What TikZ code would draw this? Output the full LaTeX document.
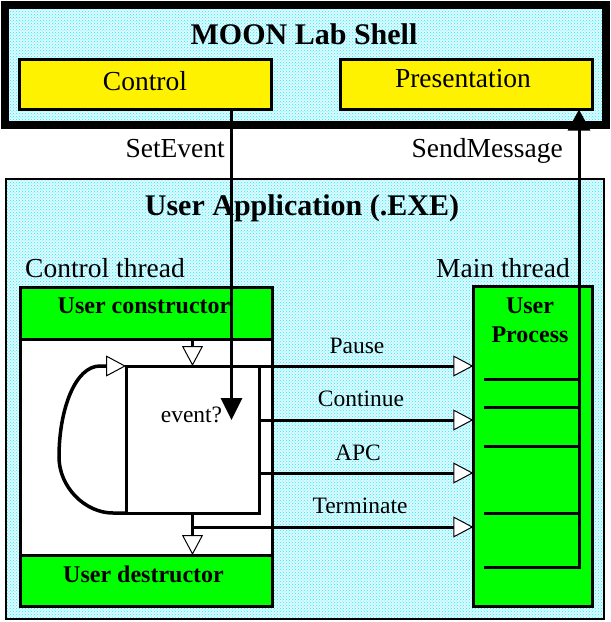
\documentclass[tikz,border=0pt]{standalone}
\usepackage{fontspec}
\setmainfont{Liberation Serif}
\usetikzlibrary{patterns,arrows.meta,positioning}

\begin{document}
\begin{tikzpicture}[x=1pt,y=-1pt,
  dotfill/.style={preaction={fill=cyan!10},pattern=crosshatch dots,pattern color=cyan},
  shellbox/.style={draw,line width=8pt,dotfill,inner sep=0pt,outer sep=0pt},
  appbox/.style={draw,line width=2pt,dotfill,inner sep=0pt,outer sep=0pt},
  ybox/.style={draw,line width=3pt,fill=yellow,minimum width=252pt,minimum height=50pt,inner sep=0pt,outer sep=0pt},
  gbox/.style={draw,line width=3pt,fill=green,inner sep=0pt,outer sep=0pt},
  wbox/.style={draw,line width=3pt,fill=white,inner sep=0pt,outer sep=0pt},
  big/.style={font=\fontsize{30}{34}\selectfont\bfseries,anchor=base,inner sep=0pt},
  txt/.style={font=\fontsize{27.5}{32}\selectfont,anchor=base,inner sep=0pt},
  small/.style={font=\fontsize{23.5}{28}\selectfont,anchor=base,inner sep=0pt},
  smallb/.style={font=\fontsize{24}{29}\selectfont\bfseries,anchor=base,inner sep=0pt},
  wire/.style={line width=3pt},
  openhead/.style={-{Triangle[length=20pt,width=21pt,fill=white,line width=1pt]}},
  solidhead/.style={-{Triangle[length=21pt,width=22pt]}}]
 \useasboundingbox (0,0) rectangle (611,622);

 \node[shellbox,minimum width=601pt,minimum height=120pt] (shell) at (305.5,65) {};
 \node[big] (shelltitle) at (304,44) {MOON Lab Shell};
 \node[ybox] (control) at (145,84.5) {};
 \node[ybox] (present) at (466.5,84.5) {};
 \node[txt] (controltxt) at (145,90) {Control};
 \node[txt] (presenttxt) at (463,87) {Presentation};

 \node[txt,anchor=base east] (setevent) at (225,157) {SetEvent};
 \node[txt,anchor=base east] (sendmsg) at (563,157) {SendMessage};

 \node[appbox,minimum width=598pt,minimum height=440pt] (app) at (305,399) {};
 \node[big] (apptitle) at (302,215) {User Application (.EXE)};
 \node[txt,anchor=base west] (ctrlthread) at (25,277) {Control thread};
 \node[txt,anchor=base east] (mainthread) at (570,277) {Main thread};

 \node[wbox,minimum width=252.5pt,minimum height=319pt] (cthread) at (146.25,447) {};
 \node[gbox,minimum width=252.5pt,minimum height=52pt] (ctor) at (146.25,313.5) {};
 \node[gbox,minimum width=252.5pt,minimum height=51.5pt] (dtor) at (146.25,580.75) {};
 \node[smallb] (ctortxt) at (144,313) {User constructor};
 \node[smallb] (dtortxt) at (143.5,582) {User destructor};

 \node[wbox,minimum width=133pt,minimum height=147pt] (event) at (192.5,439.5) {};
 \node[small] (eventtxt) at (191.5,422) {event?};

 \node[gbox,minimum width=119pt,minimum height=320pt] (uproc) at (532.8,446.7) {};
 \node[smallb] (uproc1) at (530,313) {User};
 \node[smallb] (uproc2) at (530,342) {Process};
 \draw[wire] (484,379) -- (579,379);
 \draw[wire] (484,407) -- (579,407);
 \draw[wire] (484,446) -- (579,446);
 \draw[wire] (484,513) -- (579,513);

 \coordinate (cont) at (259.3,420);
 \coordinate (apc) at (259.3,473);
 \coordinate (termfork) at (192.5,527);
 \draw[wire,openhead] (ctor.south -| event.north) -- (event.north);
 \draw[wire,openhead] (event.south) -- (dtor.north -| event.south);
 \draw[line width=3.5pt,openhead] (event.south west) -- ++(-13,0) .. controls (85,513) and (59,487) .. (59,457)
   .. controls (59,410) and (75,366) .. (100,366) -- (event.north west);
 \draw[wire,openhead] (event.north east) -- (event.north east -| uproc.west);
 \draw[wire,openhead] (cont) -- (cont -| uproc.west);
 \draw[wire,openhead] (apc) -- (apc -| uproc.west);
 \draw[wire,openhead] (termfork) -- (termfork -| uproc.west);
 \node[small] (pause) at (357,353) {Pause};
 \node[small] (continue) at (361,406) {Continue};
 \node[small] (apctxt) at (358,460) {APC};
 \node[small] (terminate) at (360,513) {Terminate};

 \coordinate (setx) at (231.5,420);
 \coordinate (sendfoot) at (579,567);
 \draw[wire,-{Triangle[length=22pt,width=21pt]}] (control.south -| setx) -- (setx);
 \draw[wire,solidhead] (484,567) -- (sendfoot) -- (sendfoot |- present.south);
\end{tikzpicture}
\end{document}
